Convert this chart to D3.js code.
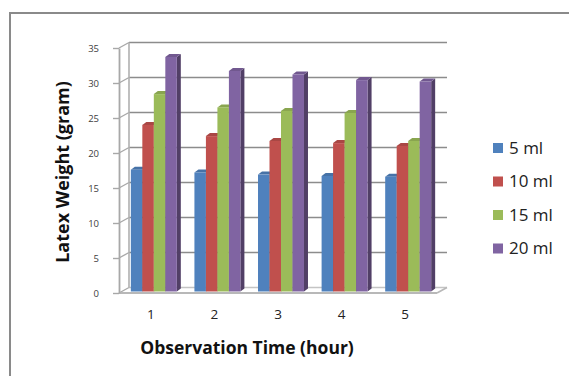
<!DOCTYPE html>
<html>
<head>
<meta charset="utf-8">
<script src="https://cdn.jsdelivr.net/npm/d3@7"></script>
<style>
  body { margin: 0; background: #fff; }
  svg { display: block; font-family: "Open Sans", "Liberation Sans", sans-serif; }
</style>
</head>
<body>
<div id="chart"></div>
<script>
// Latex weight per observation hour, 3D clustered columns
const categories = ["1", "2", "3", "4", "5"];
const seriesNames = ["5 ml", "10 ml", "15 ml", "20 ml"];
const values5 = [17.4, 17.0, 16.7, 16.5, 16.4];
const values10 = [23.8, 22.2, 21.5, 21.2, 20.8];
const values15 = [28.2, 26.3, 25.8, 25.5, 21.5];
const values20 = [33.5, 31.5, 31.0, 30.2, 30.0];
const yTicks = [0, 5, 10, 15, 20, 25, 30, 35];
const colors = ["#4F81BD", "#C0504D", "#9BBB59", "#8064A2"];

(function(){
  const width = 569, height = 376;
  const seriesValues = [values5, values10, values15, values20];

  const svg = d3.select("#chart").append("svg")
    .attr("width", width)
    .attr("height", height);

  // outer frame (runs past the right and bottom edges)
  svg.append("rect")
    .attr("x", 10).attr("y", 13)
    .attr("width", 620).attr("height", 420)
    .attr("fill", "none")
    .attr("stroke", "#8a8a8a")
    .attr("stroke-width", 2);

  // front plane scales
  const x = d3.scaleBand()
    .domain(categories)
    .range([119, 437])
    .paddingInner(0.277)
    .paddingOuter(0.139);

  const y = d3.scaleLinear()
    .domain([0, 35])
    .range([293, 48]);

  const xs = d3.scaleBand()
    .domain(seriesNames)
    .range([0, x.bandwidth()]);

  // depth offsets
  const wall = {dx: 10, dy: -5.5};
  const plane = {dx: 3, dy: -1.5};
  const depth = {dx: 4, dy: -3};

  // back wall gridlines + diagonals to front axis
  const grid = svg.append("g");
  yTicks.forEach(v => {
    grid.append("line")
      .attr("x1", 119 + wall.dx).attr("x2", 437 + wall.dx)
      .attr("y1", y(v) + wall.dy).attr("y2", y(v) + wall.dy)
      .attr("stroke", v === 0 ? "#c4c4c4" : "#8c8c8c")
      .attr("stroke-width", 1.6);
    grid.append("line")
      .attr("x1", 119).attr("x2", 119 + wall.dx)
      .attr("y1", y(v)).attr("y2", y(v) + wall.dy)
      .attr("stroke", "#a8a8a8")
      .attr("stroke-width", 1.4);
  });
  // wall left edge
  grid.append("line")
    .attr("x1", 119 + wall.dx).attr("x2", 119 + wall.dx)
    .attr("y1", y(0) + wall.dy).attr("y2", y(35) + wall.dy)
    .attr("stroke", "#b0b0b0")
    .attr("stroke-width", 1.6);

  // floor edges
  grid.append("line")
    .attr("x1", 437).attr("x2", 437 + wall.dx)
    .attr("y1", y(0)).attr("y2", y(0) + wall.dy)
    .attr("stroke", "#b8b8b8")
    .attr("stroke-width", 1.6);
  grid.append("line")
    .attr("x1", 119).attr("x2", 437)
    .attr("y1", y(0)).attr("y2", y(0))
    .attr("stroke", "#b8b8b8")
    .attr("stroke-width", 1.8);

  // bars
  const bars = svg.append("g");
  categories.forEach((c, i) => {
    seriesNames.forEach((s, j) => {
      const v = seriesValues[j][i];
      const col = d3.color(colors[j]);
      const x0 = x(c) + xs(s) + plane.dx;
      const x1 = x0 + xs.bandwidth();
      const yb = y(0) + plane.dy;
      const yt = y(v) + plane.dy;
      const g = bars.append("g");
      // right side face
      g.append("path")
        .attr("d", `M${x1},${yb}L${x1 + depth.dx},${yb + depth.dy}L${x1 + depth.dx},${yt + depth.dy}L${x1},${yt}Z`)
        .attr("fill", col.darker(1.3));
      // top face
      g.append("path")
        .attr("d", `M${x0},${yt}L${x0 + depth.dx},${yt + depth.dy}L${x1 + depth.dx},${yt + depth.dy}L${x1},${yt}Z`)
        .attr("fill", col.darker(0.35));
      // front face
      g.append("rect")
        .attr("x", x0).attr("y", yt)
        .attr("width", xs.bandwidth())
        .attr("height", yb - yt)
        .attr("fill", col);
    });
  });

  // front vertical axis with ticks
  const yAxis = svg.append("g")
    .attr("transform", "translate(119,0)")
    .call(d3.axisLeft(y).tickValues(yTicks).tickSize(6).tickPadding(14).tickSizeOuter(0));
  yAxis.select(".domain").attr("stroke", "#a8a8a8").attr("stroke-width", 1.8);
  yAxis.selectAll(".tick line").attr("stroke", "#a8a8a8").attr("stroke-width", 1.4);
  yAxis.selectAll(".tick text")
    .attr("fill", "#404040")
    .style("font-size", "9.5px")
    .style("font-family", "'Open Sans', sans-serif");

  // category labels
  const xAxis = svg.append("g")
    .attr("transform", `translate(0,${y(0)})`)
    .call(d3.axisBottom(x).tickSize(0).tickPadding(16));
  xAxis.select(".domain").remove();
  xAxis.selectAll(".tick text")
    .attr("fill", "#222")
    .style("font-size", "13.5px")
    .style("font-family", "'Open Sans', sans-serif");

  // axis titles
  svg.append("text")
    .attr("x", 247)
    .attr("y", 354)
    .attr("text-anchor", "middle")
    .attr("fill", "#111")
    .style("font-size", "17.5px")
    .style("font-weight", "bold")
    .text("Observation Time (hour)");

  svg.append("text")
    .attr("transform", "translate(69,172) rotate(-90)")
    .attr("text-anchor", "middle")
    .attr("fill", "#111")
    .style("font-size", "18px")
    .style("font-weight", "bold")
    .text("Latex Weight (gram)");

  // legend
  const legend = svg.append("g").attr("transform", "translate(493,143)");
  seriesNames.forEach((s, i) => {
    const row = legend.append("g").attr("transform", `translate(0,${i * 33.5})`);
    row.append("rect")
      .attr("width", 10).attr("height", 10)
      .attr("fill", colors[i]);
    row.append("text")
      .attr("x", 16).attr("y", 10.5)
      .attr("fill", "#222")
      .style("font-size", "17px")
      .text(s);
  });
})();
</script>
</body>
</html>
